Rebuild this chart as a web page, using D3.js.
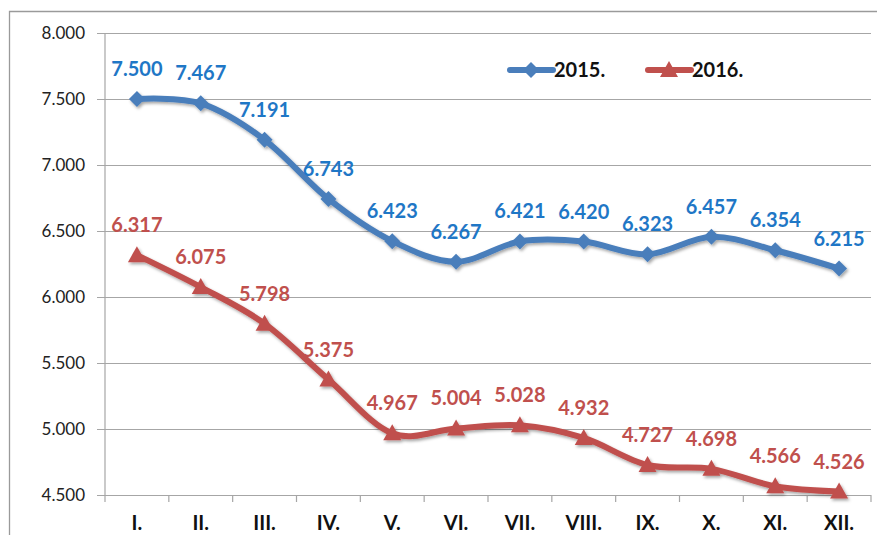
<!DOCTYPE html>
<html>
<head>
<meta charset="utf-8">
<script src="https://d3js.org/d3.v7.min.js"></script>
<style>
  body { margin: 0; background: #fff; }
  svg { display: block; }
</style>
</head>
<body>
<div id="chart"></div>
<script>
// data
var months = ["I.", "II.", "III.", "IV.", "V.", "VI.", "VII.", "VIII.", "IX.", "X.", "XI.", "XII."];
var values2015 = [7500, 7467, 7191, 6743, 6423, 6267, 6421, 6420, 6323, 6457, 6354, 6215];
var values2016 = [6317, 6075, 5798, 5375, 4967, 5004, 5028, 4932, 4727, 4698, 4566, 4526];
var yTicks = [4500, 5000, 5500, 6000, 6500, 7000, 7500, 8000];
var seriesNames = ["2015.", "2016."];

var W = 877, H = 535;
var margin = {top: 33, right: 6, bottom: 40, left: 105};
var width = W - margin.left - margin.right,
    height = H - margin.top - margin.bottom;

var fmt = function(v) { return d3.format(",.0f")(v).replace(/,/g, "."); };

var svg = d3.select("#chart").append("svg")
  .attr("width", W)
  .attr("height", H);

var defs = svg.append("defs");
var f = defs.append("filter").attr("id", "shadow")
  .attr("x", "-20%").attr("y", "-20%").attr("width", "140%").attr("height", "140%");
f.append("feDropShadow").attr("dx", 1.5).attr("dy", 2).attr("stdDeviation", 1.5)
  .attr("flood-color", "#000").attr("flood-opacity", 0.35);

// outer frame (cut off on the right and bottom)
svg.append("path")
  .attr("d", "M9.5," + H + "V11.5H" + W)
  .attr("fill", "none").attr("stroke", "#9a9a9a").attr("stroke-width", 1.3);

var g = svg.append("g")
  .attr("transform", "translate(" + margin.left + "," + margin.top + ")");

var x = d3.scaleBand().domain(months).range([0, width]);
var y = d3.scaleLinear().domain([4500, 8000]).range([height, 0]);

// gridlines + y axis
var yAxis = g.append("g")
  .call(d3.axisLeft(y).tickValues(yTicks).tickSize(-width).tickPadding(20).tickFormat(fmt));
yAxis.select(".domain").remove();
yAxis.selectAll(".tick line")
  .attr("x1", -8)
  .attr("stroke", "#a6a6a6").attr("stroke-width", 1.2);
yAxis.selectAll(".tick text")
  .attr("font-family", "Lato, 'Open Sans', sans-serif")
  .attr("font-size", "17px")
  .attr("fill", "#222");

g.append("line")
  .attr("x1", 0).attr("x2", 0).attr("y1", 0).attr("y2", height + 7)
  .attr("stroke", "#a6a6a6").attr("stroke-width", 1.2);

// x axis ticks at category boundaries
var xAxis = g.append("g").attr("transform", "translate(0," + height + ")");
xAxis.selectAll("line.xt")
  .data(months.slice(1).concat(["end"]))
  .enter().append("line")
  .attr("class", "xt")
  .attr("x1", function(d, i) { return x.step() * (i + 1); })
  .attr("x2", function(d, i) { return x.step() * (i + 1); })
  .attr("y1", 0).attr("y2", 7)
  .attr("stroke", "#a6a6a6").attr("stroke-width", 1.2);
xAxis.selectAll("text")
  .data(months)
  .enter().append("text")
  .attr("x", function(d) { return x(d) + x.bandwidth() / 2; })
  .attr("y", 35)
  .attr("text-anchor", "middle")
  .attr("font-family", "Lato, sans-serif")
  .attr("font-weight", "bold")
  .attr("font-size", "20px")
  .attr("fill", "#111")
  .text(function(d) { return d; });

var cx = function(d, i) { return x(months[i]) + x.bandwidth() / 2; };
var line = d3.line()
  .x(cx)
  .y(function(d) { return y(d); })
  .curve(d3.curveCardinal.tension(0));

var series = [
  {name: seriesNames[0], values: values2015, color: "#4a7ebb", label: "#1f77c6", marker: "diamond"},
  {name: seriesNames[1], values: values2016, color: "#c0504d", label: "#c0504d", marker: "triangle"}
];

function markerPath(type) {
  if (type == "diamond") return "M0,-8L8,0L0,8L-8,0Z";
  return "M0,-9L9,7L-9,7Z";
}

series.forEach(function(s) {
  var sg = g.append("g").attr("filter", "url(#shadow)");
  sg.append("path")
    .datum(s.values)
    .attr("d", line)
    .attr("fill", "none")
    .attr("stroke", s.color)
    .attr("stroke-width", 6)
    .attr("stroke-linejoin", "round")
    .attr("stroke-linecap", "round");
  sg.selectAll("path.m")
    .data(s.values)
    .enter().append("path")
    .attr("class", "m")
    .attr("transform", function(d, i) { return "translate(" + cx(d, i) + "," + y(d) + ")"; })
    .attr("d", markerPath(s.marker))
    .attr("fill", s.color);
  g.selectAll(null)
    .data(s.values)
    .enter().append("text")
    .attr("x", cx)
    .attr("y", function(d) { return y(d) - 23; })
    .attr("text-anchor", "middle")
    .attr("font-family", "Lato, sans-serif")
    .attr("font-weight", "bold")
    .attr("font-size", "20px")
    .attr("fill", s.label)
    .text(fmt);
});

// legend
var legend = svg.append("g");
var legX = [510, 648];
series.forEach(function(s, i) {
  var lg = legend.append("g").attr("transform", "translate(" + legX[i] + ",70)");
  lg.append("line")
    .attr("x1", 0).attr("x2", 43).attr("y1", 0).attr("y2", 0)
    .attr("stroke", s.color).attr("stroke-width", 6).attr("stroke-linecap", "round");
  lg.append("path")
    .attr("transform", "translate(21,0)")
    .attr("d", markerPath(s.marker))
    .attr("fill", s.color);
  lg.append("text")
    .attr("x", 44).attr("y", 7)
    .attr("font-family", "Lato, sans-serif")
    .attr("font-weight", "bold")
    .attr("font-size", "20px")
    .attr("fill", "#111")
    .text(s.name);
});
</script>
</body>
</html>
